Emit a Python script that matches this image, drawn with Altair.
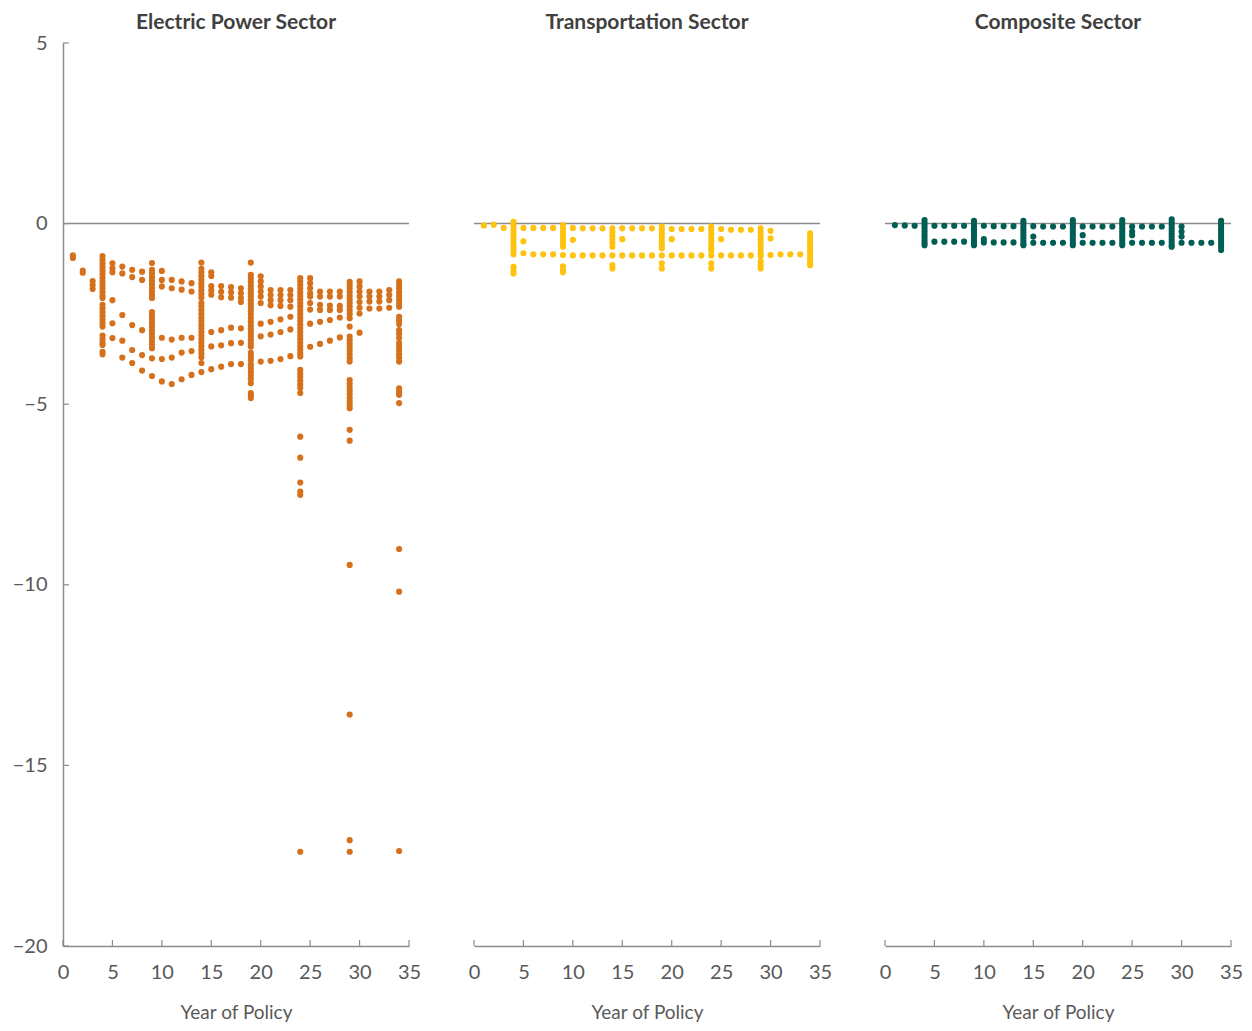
import altair as alt
import pandas as pd

# ---------------- data ----------------
years = list(range(1, 35))

ep_values = [
    [-0.88, -0.95],
    [-1.30, -1.36],
    [-1.59, -1.70, -1.81],
    [-0.90, -1.00, -1.10, -1.20, -1.30, -1.40, -1.50, -1.60, -1.70, -1.80, -1.90, -2.00, -2.06,
     -2.25, -2.35, -2.45, -2.55, -2.65, -2.75, -2.85, -3.10, -3.20, -3.30, -3.36, -3.55, -3.62],
    [-1.10, -1.24, -1.35, -2.12, -2.76, -3.17],
    [-1.19, -1.38, -2.53, -3.24, -3.71],
    [-1.28, -1.48, -2.81, -3.50, -3.86],
    [-1.33, -1.56, -2.95, -3.64, -4.07],
    [-1.09, -1.28, -1.38, -1.48, -1.58, -1.68, -1.78, -1.88, -1.98, -2.06,
     -2.45, -2.55, -2.65, -2.75, -2.85, -2.95, -3.05, -3.15, -3.25, -3.35, -3.45, -3.73, -4.22],
    [-1.31, -1.56, -1.74, -3.16, -3.75, -4.37],
    [-1.56, -1.79, -3.21, -3.71, -4.44],
    [-1.60, -1.83, -3.16, -3.57, -4.31],
    [-1.65, -1.88, -3.16, -3.53, -4.19],
    [-1.08, -1.25, -1.35, -1.45, -1.55, -1.65, -1.75, -1.85, -1.95, -2.05,
     -2.20, -2.30, -2.40, -2.50, -2.60, -2.70, -2.80, -2.90, -3.00, -3.10, -3.20, -3.30, -3.40,
     -3.50, -3.60, -3.70, -3.86, -4.11],
    [-1.35, -1.45, -1.73, -1.85, -1.97, -3.00, -3.40, -4.03],
    [-1.73, -1.89, -2.04, -2.95, -3.37, -3.96],
    [-1.76, -1.90, -2.05, -2.88, -3.31, -3.89],
    [-1.79, -1.93, -2.06, -2.17, -2.90, -3.30, -3.89],
    [-1.08, -1.42, -1.52, -1.62, -1.72, -1.82, -1.92, -2.02, -2.12, -2.22, -2.32, -2.42, -2.52,
     -2.62, -2.72, -2.82, -2.92, -3.02, -3.12, -3.22, -3.32, -3.41, -3.58, -3.68, -3.78, -3.90,
     -4.00, -4.10, -4.20, -4.30, -4.42, -4.69, -4.76, -4.83],
    [-1.46, -1.60, -1.74, -1.88, -2.02, -2.20, -2.77, -3.12, -3.82],
    [-1.84, -1.98, -2.12, -2.26, -2.72, -3.07, -3.80],
    [-1.84, -1.98, -2.12, -2.28, -2.65, -3.00, -3.75],
    [-1.84, -1.98, -2.12, -2.30, -2.58, -2.93, -3.67],
    [-1.51, -1.60, -1.70, -1.80, -1.90, -2.00, -2.10, -2.20, -2.30, -2.40, -2.50, -2.60, -2.70,
     -2.80, -2.90, -3.00, -3.10, -3.20, -3.30, -3.40, -3.50, -3.60, -3.68, -4.05, -4.15, -4.25,
     -4.35, -4.45, -4.55, -4.69, -5.90, -6.48, -7.17, -7.42, -7.51, -17.39],
    [-1.51, -1.65, -1.79, -1.93, -2.02, -2.20, -2.38, -2.77, -3.41],
    [-1.88, -2.02, -2.25, -2.39, -2.72, -3.33],
    [-1.88, -2.02, -2.27, -2.39, -2.67, -3.24],
    [-1.88, -2.02, -2.28, -2.39, -2.60, -3.15],
    [-1.61, -1.70, -1.80, -1.90, -2.00, -2.10, -2.20, -2.30, -2.40, -2.50, -2.62, -2.85,
     -3.13, -3.23, -3.33, -3.43, -3.53, -3.63, -3.73, -3.82, -4.33, -4.43, -4.53, -4.63,
     -4.73, -4.83, -4.93, -5.03, -5.11, -5.71, -6.01, -9.45, -13.59, -17.07, -17.39],
    [-1.60, -1.74, -1.88, -2.02, -2.17, -2.33, -2.49, -3.02],
    [-1.88, -2.02, -2.16, -2.35],
    [-1.88, -2.02, -2.16, -2.35],
    [-1.84, -1.98, -2.12, -2.33],
    [-1.60, -1.70, -1.80, -1.90, -2.00, -2.10, -2.20, -2.30, -2.58, -2.68, -2.78, -2.95, -3.05,
     -3.17, -3.31, -3.41, -3.51, -3.61, -3.71, -3.82, -4.56, -4.66, -4.74, -4.97, -9.01,
     -10.19, -17.37],
]

tr_values = [
    [-0.05], [-0.03], [-0.12],
    [0.05, -0.05, -0.15, -0.25, -0.35, -0.45, -0.55, -0.65, -0.75, -0.85, -1.20, -1.30, -1.38],
    [-0.12, -0.49, -0.82],
    [-0.12, -0.85], [-0.12, -0.85], [-0.12, -0.85],
    [-0.04, -0.14, -0.24, -0.34, -0.44, -0.54, -0.64, -0.87, -1.18, -1.28, -1.35],
    [-0.12, -0.45, -0.88],
    [-0.13, -0.88], [-0.13, -0.88], [-0.13, -0.88],
    [-0.13, -0.23, -0.33, -0.43, -0.53, -0.64, -0.88, -1.15, -1.24],
    [-0.13, -0.43, -0.88],
    [-0.13, -0.88], [-0.13, -0.88], [-0.13, -0.88],
    [-0.08, -0.18, -0.28, -0.38, -0.48, -0.58, -0.68, -0.88, -1.10, -1.24],
    [-0.15, -0.43, -0.88],
    [-0.15, -0.88], [-0.15, -0.88], [-0.15, -0.88],
    [-0.08, -0.18, -0.28, -0.38, -0.48, -0.58, -0.68, -0.75, -0.88, -1.10, -1.24],
    [-0.15, -0.43, -0.88],
    [-0.17, -0.88], [-0.17, -0.88], [-0.17, -0.88],
    [-0.13, -0.23, -0.33, -0.43, -0.53, -0.63, -0.73, -0.83, -0.90, -1.05, -1.15, -1.24],
    [-0.20, -0.41, -0.87],
    [-0.85], [-0.85], [-0.85],
    [-0.27, -0.37, -0.47, -0.57, -0.67, -0.77, -0.87, -0.97, -1.07, -1.15],
]

co_values = [
    [-0.04], [-0.05], [-0.06],
    [0.10, 0.02, -0.06, -0.14, -0.22, -0.30, -0.38, -0.46, -0.54, -0.60],
    [-0.06, -0.50], [-0.06, -0.50], [-0.06, -0.50], [-0.06, -0.50],
    [0.08, 0.00, -0.08, -0.16, -0.24, -0.32, -0.40, -0.48, -0.56, -0.60],
    [-0.06, -0.43, -0.52],
    [-0.07, -0.52], [-0.07, -0.52], [-0.07, -0.52],
    [0.08, 0.00, -0.08, -0.16, -0.24, -0.32, -0.40, -0.48, -0.56, -0.60],
    [-0.07, -0.36, -0.53],
    [-0.08, -0.53], [-0.08, -0.53], [-0.08, -0.53],
    [0.10, 0.02, -0.06, -0.14, -0.22, -0.30, -0.38, -0.46, -0.54, -0.60],
    [-0.08, -0.32, -0.53],
    [-0.08, -0.53], [-0.08, -0.53], [-0.08, -0.53],
    [0.10, 0.02, -0.06, -0.14, -0.22, -0.30, -0.38, -0.46, -0.54, -0.60],
    [-0.08, -0.22, -0.32, -0.53],
    [-0.08, -0.53], [-0.08, -0.53], [-0.08, -0.53],
    [0.12, 0.04, -0.04, -0.12, -0.20, -0.28, -0.36, -0.44, -0.52, -0.60, -0.64],
    [-0.08, -0.22, -0.36, -0.53],
    [-0.53], [-0.53], [-0.53],
    [0.08, 0.00, -0.08, -0.16, -0.24, -0.32, -0.40, -0.48, -0.56, -0.64, -0.73],
]

panel_titles = ["Electric Power Sector", "Transportation Sector", "Composite Sector"]
panel_colors = ["#D5711D", "#FFC20E", "#005E54"]
x_ticks = [0, 5, 10, 15, 20, 25, 30, 35]
y_ticks = [5, 0, -5, -10, -15, -20]
x_title = "Year of Policy"

# ---------------- chart ----------------
W, H = 346, 903
FONT = "Lato"
AXIS_GREY = "#8c8c8c"
LABEL_GREY = "#595959"


def to_df(values):
    rows = []
    for yr, vals in zip(years, values):
        for v in vals:
            rows.append({"year": yr, "value": v})
    return pd.DataFrame(rows)


xscale = alt.Scale(domain=[0, 35], nice=False, zero=False)
yscale = alt.Scale(domain=[-20, 5], nice=False, zero=False)

XAXIS = alt.Axis(values=x_ticks, title=x_title, tickSize=0, labelPadding=16,
                 labelFlush=False, titlePadding=21, grid=False,
                 domainColor=AXIS_GREY, domainWidth=1.5,
                 labelFontSize=20, labelColor=LABEL_GREY, labelFont=FONT,
                 titleFontSize=19, titleColor=LABEL_GREY, titleFont=FONT,
                 titleFontWeight="normal")
YAXIS = alt.Axis(values=y_ticks, title=None, tickSize=0, labelPadding=16,
                 labelFlush=False, grid=False, domainColor=AXIS_GREY, domainWidth=1.5,
                 labelFontSize=20, labelColor=LABEL_GREY, labelFont=FONT)


def panel(values, color, title, show_y):
    df = to_df(values)
    yaxis = YAXIS if show_y else None

    def ych(field):
        return alt.Y(field, scale=yscale, axis=yaxis, title=None)

    def xch(field):
        return alt.X(field, scale=xscale, axis=XAXIS, title=x_title)

    zero = alt.Chart(pd.DataFrame({"value": [0]})).mark_rule(
        color=AXIS_GREY, strokeWidth=1.5
    ).encode(y=ych("value:Q"))

    xt = alt.Chart(pd.DataFrame({"year": x_ticks})).mark_rule(
        color=AXIS_GREY, strokeWidth=1.2
    ).encode(x=xch("year:Q"), y=alt.value(H), y2=alt.value(H - 6))

    pts = alt.Chart(df).mark_circle(size=38, opacity=1, color=color).encode(
        x=xch("year:Q"),
        y=ych("value:Q"),
    )

    layers = [zero, xt]
    if show_y:
        yt = alt.Chart(pd.DataFrame({"value": y_ticks})).mark_rule(
            color=AXIS_GREY, strokeWidth=1.2
        ).encode(y=ych("value:Q"), x=alt.value(0), x2=alt.value(6))
        layers.append(yt)
    layers.append(pts)

    return alt.layer(*layers).properties(
        width=W, height=H,
        title=alt.TitleParams(title, font=FONT, fontSize=21, fontWeight="bold",
                              color="#404040", anchor="middle",
                              offset=0 if show_y else 10),
    )


chart = alt.hconcat(
    panel(ep_values, panel_colors[0], panel_titles[0], True),
    panel(tr_values, panel_colors[1], panel_titles[1], False),
    panel(co_values, panel_colors[2], panel_titles[2], False),
    spacing=47,
).properties(
    padding={"left": 4, "top": 4, "right": 0, "bottom": 0}
).configure(background="white").configure_view(stroke="transparent", strokeWidth=0)

chart.save("out.html", embed_options={"renderer": "svg", "actions": False})
